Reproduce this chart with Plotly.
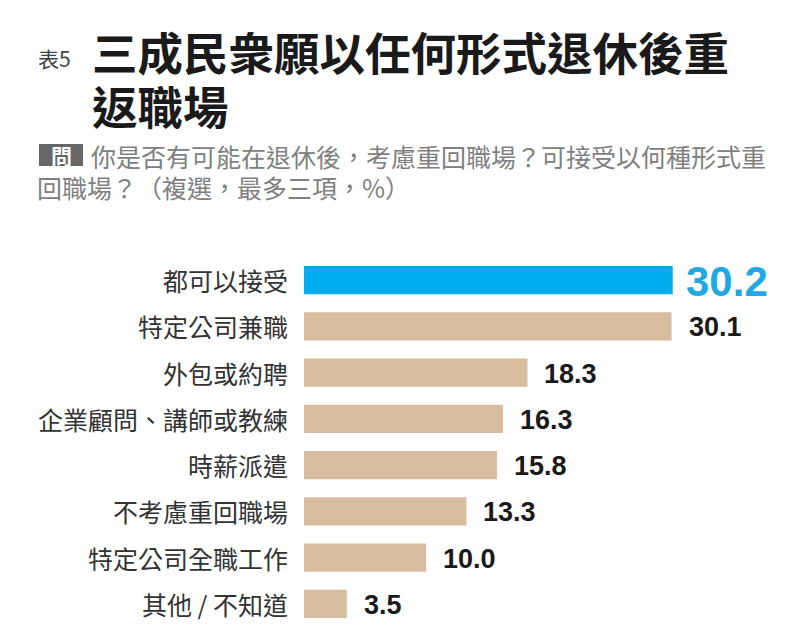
import plotly.graph_objects as go

categories = ["都可以接受", "特定公司兼職", "外包或約聘", "企業顧問、講師或教練",
              "時薪派遣", "不考慮重回職場", "特定公司全職工作", "其他 / 不知道"]
values = [30.2, 30.1, 18.3, 16.3, 15.8, 13.3, 10.0, 3.5]
value_labels = ["30.2", "30.1", "18.3", "16.3", "15.8", "13.3", "10.0", "3.5"]

title_tag = "表5"
title_line1 = "三成民衆願以任何形式退休後重"
title_line2 = "返職場"
q_tag = "問"
sub_line1 = "你是否有可能在退休後，考慮重回職場？可接受以何種形式重"
sub_line2 = "回職場？（複選，最多三項，%）"

OFF = 8  # page body margin
W, H = 792, 640
L, T = 304 - OFF, 257 - OFF
PW, PH = 464, 370
R, B = W - L - PW, H - T - PH

BLUE = "#00AEEF"
TAN = "#D8BC9E"
CJK = "Noto Sans CJK TC"
NUM = "Liberation Sans, Arial"


def px(x):
    return (x - OFF - L) / PW


def py(y):
    return (H - B - (y - OFF)) / PH


colors = [BLUE] + [TAN] * (len(values) - 1)

fig = go.Figure(go.Bar(
    x=values, y=categories, orientation="h",
    marker=dict(color=colors, line=dict(width=0)),
    width=0.61, hoverinfo="skip",
))

ann = []
for i, (c, v, lab) in enumerate(zip(categories, values, value_labels)):
    ann.append(dict(x=0, xref="paper", y=c, yref="y", text=c, showarrow=False,
                    xanchor="right", yanchor="middle", xshift=-14,
                    font=dict(family=CJK, size=25, color="#333333")))
    if i == 0:
        ann.append(dict(x=v, xref="x", y=c, yref="y", text=lab, showarrow=False,
                        xanchor="left", yanchor="middle", xshift=11, yshift=-1,
                        font=dict(family=NUM, size=42, color="#1FA8E2", weight="bold")))
    else:
        ann.append(dict(x=v, xref="x", y=c, yref="y", text=lab, showarrow=False,
                        xanchor="left", yanchor="middle", xshift=15, yshift=-1,
                        font=dict(family=NUM, size=27, color="#1a1a1a", weight="bold")))

# title block
ann.append(dict(x=px(36), y=py(58), xref="paper", yref="paper", text=title_tag,
                showarrow=False, xanchor="left", yanchor="middle",
                font=dict(family=CJK, size=21, color="#444444")))
ann.append(dict(x=px(90), y=py(51), xref="paper", yref="paper", text=title_line1,
                showarrow=False, xanchor="left", yanchor="middle",
                font=dict(family=CJK, size=45.5, color="#1a1a1a", weight="bold")))
ann.append(dict(x=px(90), y=py(105), xref="paper", yref="paper", text=title_line2,
                showarrow=False, xanchor="left", yanchor="middle",
                font=dict(family=CJK, size=45.5, color="#1a1a1a", weight="bold")))
ann.append(dict(x=px(61), y=py(155), xref="paper", yref="paper", text=q_tag,
                showarrow=False, xanchor="center", yanchor="middle",
                font=dict(family=CJK, size=21, color="#ffffff", weight="bold")))
ann.append(dict(x=px(89), y=py(156), xref="paper", yref="paper", text=sub_line1,
                showarrow=False, xanchor="left", yanchor="middle",
                font=dict(family=CJK, size=25, color="#808080")))
ann.append(dict(x=px(35), y=py(187), xref="paper", yref="paper", text=sub_line2,
                showarrow=False, xanchor="left", yanchor="middle",
                font=dict(family=CJK, size=25, color="#808080")))

shapes = [dict(type="rect", xref="paper", yref="paper",
               x0=px(39), x1=px(83), y0=py(166), y1=py(144),
               fillcolor="#666666", line=dict(width=0), layer="below")]

fig.update_layout(
    width=W, height=H,
    margin=dict(l=L, r=R, t=T, b=B, pad=0),
    paper_bgcolor="white", plot_bgcolor="white",
    showlegend=False,
    xaxis=dict(range=[0, 38], visible=False, fixedrange=True),
    yaxis=dict(range=[len(categories) - 0.5, -0.5], visible=False,
               categoryorder="array", categoryarray=categories, fixedrange=True),
    annotations=ann, shapes=shapes,
)

fig.write_html("out.html")
